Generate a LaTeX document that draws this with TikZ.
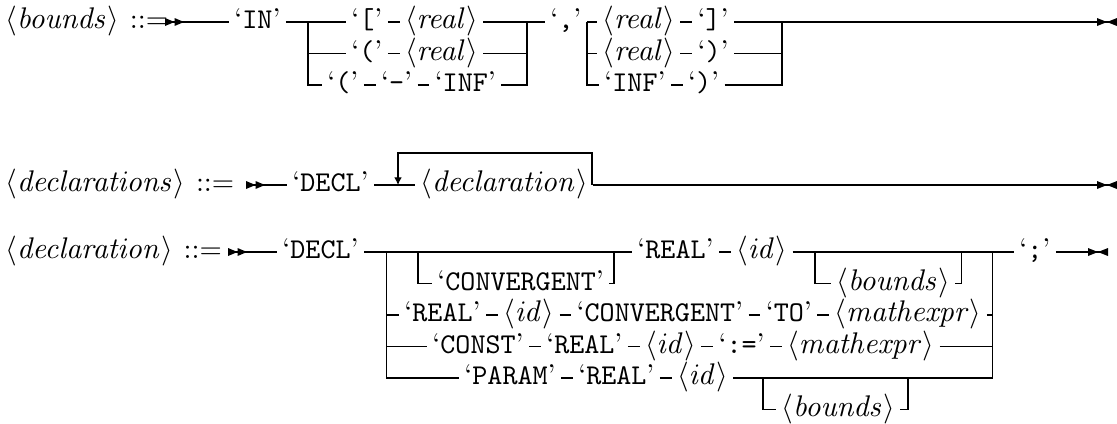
\documentclass[tikz,border=0pt]{standalone}
\usetikzlibrary{positioning,arrows.meta}
% terminal symbol and non-terminal symbol
\newcommand\lt[1]{\textquoteleft\texttt{#1}\textquoteright}
\newcommand\nt[1]{$\langle\mathit{#1}\rangle$}
\begin{document}
\begin{tikzpicture}[x=0.3663pt,y=-0.3663pt,line width=0.4pt,
  tok/.style={inner sep=0pt,outer xsep=2pt,outer ysep=0pt,
    text height=7.5pt,text depth=2.5pt,anchor=west,font=\fontsize{10.5}{12}\selectfont},
  seq/.style={tok,right=4.3pt of #1},
  startmark/.pic={
    \fill (0,-4) -- (9.5,0) -- (0,4) -- cycle;
    \fill (9.5,-4) -- (19,0) -- (9.5,4) -- cycle;},
  endmark/.pic={
    \fill (-20,-4) -- (-10,0) -- (-20,4) -- cycle;
    \fill (0,-4) -- (-10,0) -- (0,4) -- cycle;},
  loop/.style={-{Latex[length=2.8pt,width=2.8pt]}}]
\useasboundingbox (0,0) rectangle (1117,423);

% ---------------- <bounds> ----------------
\node[tok] (lb) at (0,22) {\nt{bounds}\hspace{4pt}::=};
\coordinate (s1) at (165,22);
\node[tok] (in) at (229,22) {\lt{IN}};
\coordinate (j1) at (308,22);
\node[tok] (a1) at (346,22) {\lt{[}};
\node[seq=a1] (a1r) {\nt{real}};
\node[tok] (a2) at (346,53.5) {\lt{(}};
\node[seq=a2] (a2r) {\nt{real}};
\node[tok] (a3) at (322,85) {\lt{(}};
\node[seq=a3] (a3m) {\lt{-}};
\node[seq=a3m] (a3i) {\lt{INF}};
\coordinate (j2) at (527,22);
\node[tok] (cm) at (545,22) {\lt{,}};
\coordinate (j3) at (587,22);
\node[tok] (b1) at (597,22) {\nt{real}};
\node[seq=b1] (b1c) {\lt{]}};
\node[tok] (b2) at (597,53.5) {\nt{real}};
\node[seq=b2] (b2c) {\lt{)}};
\node[tok] (b3) at (599,85) {\lt{INF}};
\node[seq=b3] (b3c) {\lt{)}};
\coordinate (j4) at (782,22);
\coordinate (e1) at (1117,22);

\draw (s1) -- (in.west);
\draw (in.east) -- (a1.west);
\draw (j1) |- (a2.west);
\draw (j1) |- (a3.west);
\draw (a1.east) -- (a1r.west);
\draw (a2.east) -- (a2r.west);
\draw (a3.east) -- (a3m.west);
\draw (a3m.east) -- (a3i.west);
\draw (a1r.east) -- (cm.west);
\draw (a2r.east) -| (j2);
\draw (a3i.east) -| (j2);
\draw (cm.east) -- (b1.west);
\draw (j3) |- (b2.west);
\draw (j3) |- (b3.west);
\draw (b1.east) -- (b1c.west);
\draw (b2.east) -- (b2c.west);
\draw (b3.east) -- (b3c.west);
\draw (b1c.east) -- (e1);
\draw (b2c.east) -| (j4);
\draw (b3c.east) -| (j4);
\pic at (s1) {startmark};
\pic at (e1) {endmark};

% ---------------- <declarations> ----------------
\node[tok] (lds) at (0,185) {\nt{declarations}\hspace{4pt}::=};
\coordinate (s2) at (246,185);
\node[tok] (d2) at (287,185) {\lt{DECL}};
\node[tok] (dcl) at (415,185) {\nt{declaration}};
\coordinate (lpl) at (398,185);
\coordinate (lpr) at (592,185);
\coordinate (e2) at (1117,185);

\draw (s2) -- (d2.west);
\draw (d2.east) -- (dcl.west);
\draw (dcl.east) -- (e2);
\draw[loop] (lpr) -- ++(0,-32) -| (lpl);
\pic at (s2) {startmark};
\pic at (e2) {endmark};

% ---------------- <declaration> ----------------
\node[tok] (ld) at (0,252) {\nt{declaration}\hspace{4pt}::=};
\coordinate (s3) at (228,252);
\node[tok] (d3) at (277,252) {\lt{DECL}};
\coordinate (jl) at (386.7,252);
\coordinate (jcl) at (418,252);
\node[tok] (cv) at (432,283.5) {\lt{CONVERGENT}};
\coordinate (jcr) at (614,252);
\node[tok] (re) at (632,252) {\lt{REAL}};
\node[seq=re] (id) {\nt{id}};
\coordinate (jbl) at (815,252);
\node[tok] (bd) at (831,283.5) {\nt{bounds}};
\coordinate (jbr) at (961.7,252);
\coordinate (jr) at (992.7,252);
\node[tok] (sc) at (1014,252) {\lt{;}};
\coordinate (e3) at (1108,252);

\node[tok] (p1) at (399,315) {\lt{REAL}};
\node[seq=p1] (p2) {\nt{id}};
\node[seq=p2] (p3) {\lt{CONVERGENT}};
\node[seq=p3] (p4) {\lt{TO}};
\node[seq=p4] (p5) {\nt{mathexpr}};

\node[tok] (q1) at (427,346.5) {\lt{CONST}};
\node[seq=q1] (q2) {\lt{REAL}};
\node[seq=q2] (q3) {\nt{id}};
\node[seq=q3] (q4) {\lt{:=}};
\node[seq=q4] (q5) {\nt{mathexpr}};

\node[tok] (r1) at (459,378) {\lt{PARAM}};
\node[seq=r1] (r2) {\lt{REAL}};
\node[seq=r2] (r3) {\nt{id}};
\coordinate (jrl) at (763,378);
\node[tok] (r4) at (776,409.5) {\nt{bounds}};
\coordinate (jrr) at (908,378);

\draw (s3) -- (d3.west);
\draw (d3.east) -- (re.west);
\draw (jcl) |- (cv.west);
\draw (cv.east) -| (jcr);
\draw (re.east) -- (id.west);
\draw (id.east) -- (sc.west);
\draw (jbl) |- (bd.west);
\draw (bd.east) -| (jbr);
\draw (sc.east) -- (e3);
\draw (jl) |- (p1.west);
\draw (jl) |- (q1.west);
\draw (jl) |- (r1.west);
\draw (p1.east) -- (p2.west);
\draw (p2.east) -- (p3.west);
\draw (p3.east) -- (p4.west);
\draw (p4.east) -- (p5.west);
\draw (q1.east) -- (q2.west);
\draw (q2.east) -- (q3.west);
\draw (q3.east) -- (q4.west);
\draw (q4.east) -- (q5.west);
\draw (r1.east) -- (r2.west);
\draw (r2.east) -- (r3.west);
\draw (p5.east) -| (jr);
\draw (q5.east) -| (jr);
\draw (r3.east) -| (jr);
\draw (jrl) |- (r4.west);
\draw (r4.east) -| (jrr);
\pic at (s3) {startmark};
\pic at (e3) {endmark};
\end{tikzpicture}
\end{document}
